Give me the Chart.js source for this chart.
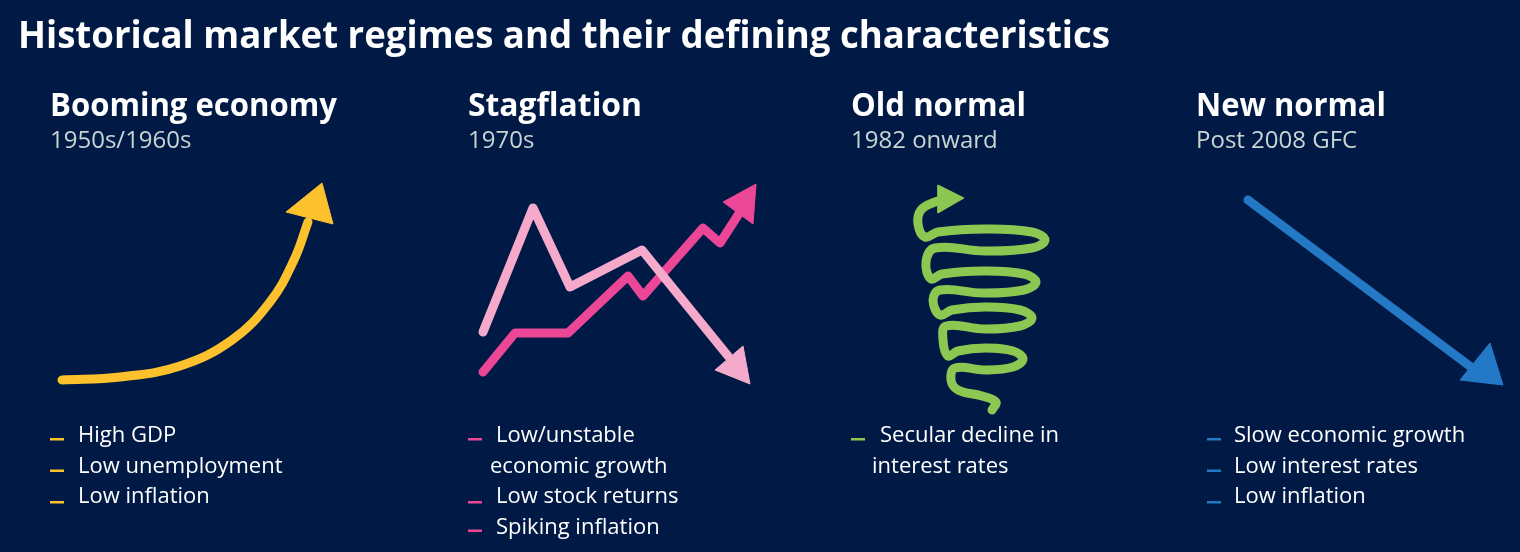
<!DOCTYPE html>
<html><head><meta charset="utf-8">
<script src="https://cdn.jsdelivr.net/npm/chart.js@4"></script>
<style>html,body{margin:0;padding:0;background:#001a45;}canvas{display:block}</style>
</head><body>
<canvas id="c" width="1520" height="552"></canvas>
<script>
// ---- data (figure shapes, in picture units) ----
const titleText = "Historical market regimes and their defining characteristics";
const regimeNames = ["Booming economy", "Stagflation", "Old normal", "New normal"];
const regimePeriods = ["1950s/1960s", "1970s", "1982 onward", "Post 2008 GFC"];
const regimeColors = ["#fcc12c", "#ec4797", "#8cc751", "#2479c6"];
const bullets = [
  [["High GDP"], ["Low unemployment"], ["Low inflation"]],
  [["Low/unstable", "economic growth"], ["Low stock returns"], ["Spiking inflation"]],
  [["Secular decline in", "interest rates"]],
  [["Slow economic growth"], ["Low interest rates"], ["Low inflation"]]
];
const boomCurve = [[62,380],[120,377],[180,366],[232,340],[270,302],[294,260],[308,222]];
const boomHead = [[322,183],[286,212],[333,224],[322,183]];
const stagInflation = [[483,332],[533,208],[570,287],[642,250],[728,356]];
const stagInflationHead = [[750,384],[715,370],[743,346],[750,384]];
const stagGrowth = [[483,372],[515,333],[568,333],[628,276],[643,296],[703,228],[720,243],[740,212]];
const stagGrowthHead = [[756,184],[723,202],[753,224],[756,184]];
const spiral = [[992,410],[996,402],[982,396],[958,390],[951,380],[955,368],[985,370],[1013,367],[1023,359],[1013,351],[985,348],[958,351],[948,356],[943,340],[946,326],[985,329],[1020,326],[1032,318],[1020,310],[985,307],[952,310],[940,315],[933,300],[940,290],[983,293],[1024,290],[1036,282],[1024,274],[983,271],[942,274],[931,279],[926,262],[935,248],[985,251],[1032,248],[1045,240],[1032,232],[985,229],[938,232],[925,237],[918,224],[921,210],[935,202],[948,199]];
const spiralHead = [[964,198],[938,185],[938,213],[964,198]];
const newNormalLine = [[1248,200],[1475,370]];
const newNormalHead = [[1503,385],[1460,380],[1490,343],[1503,385]];

const toPts = a => a.map(p => ({x:p[0], y:p[1]}));
const lineDs = (pts, color, tension) => ({data: toPts(pts), showLine:true, borderColor:color, borderWidth:9,
  borderCapStyle:'round', borderJoinStyle:'round', pointRadius:0, tension:tension||0, fill:false});
const headDs = (pts, color) => ({data: toPts(pts), showLine:true, borderColor:color, backgroundColor:color,
  borderWidth:1, pointRadius:0, tension:0, fill:'shape'});

const datasets = [
  lineDs(boomCurve, regimeColors[0], 0.4), headDs(boomHead, regimeColors[0]),
  lineDs(stagInflation, "#f5aacb"), headDs(stagInflationHead, "#f5aacb"),
  lineDs(stagGrowth, regimeColors[1]), headDs(stagGrowthHead, regimeColors[1]),
  lineDs(spiral, regimeColors[2], 0.4), headDs(spiralHead, regimeColors[2]),
  lineDs(newNormalLine, regimeColors[3]), headDs(newNormalHead, regimeColors[3])
];

const colX = [50, 468, 851, 1196];
const textPlugin = {
  id:'txt',
  beforeDraw(chart){ const c=chart.ctx; c.save(); c.fillStyle='#001a45'; c.fillRect(0,0,chart.width,chart.height); c.restore(); },
  afterDraw(chart){
    const c = chart.ctx; c.save(); c.textBaseline='alphabetic';
    const fit = (t,x,y,font,col,w) => { c.font=font; c.fillStyle=col; c.fillText(t,x,y,w); };
    fit(titleText, 18, 48, "bold 37px 'Open Sans'", "#fff", 1092);
    const headW = [287, 174, 175, 190];
    const perW = [166, 78, 161, 182];
    regimeNames.forEach((n,i)=>{
      fit(n, colX[i], 116, "bold 33px 'Open Sans'", "#fff", headW[i]);
      fit(regimePeriods[i], colX[i], 148, "24px 'Open Sans'", "#c9d5d3", perW[i]);
    });
    const bulletX = [50, 468, 851, 1207];
    const textX = [78, 496, 880, 1234];
    const contX = [78, 490, 872, 1234];
    bullets.forEach((list,i)=>{
      let line = 0;
      list.forEach(b=>{
        const y = 442 + line*30.5;
        c.fillStyle = regimeColors[i]; c.fillRect(bulletX[i], y-4 + (line%3)*1, 14, 2.5);
        b.forEach((t,k)=>{
          c.font = "22px 'Open Sans'"; c.fillStyle = "#fff";
          c.fillText(t, k===0?textX[i]:contX[i], 442 + line*30.5);
          line++;
        });
      });
    });
    c.restore();
  }
};

new Chart(document.getElementById('c'), {
  type:'scatter',
  data:{datasets},
  options:{responsive:false, animation:false, devicePixelRatio:1,
    layout:{padding:0},
    plugins:{legend:{display:false}, tooltip:{enabled:false}},
    scales:{x:{type:'linear',min:0,max:1520,display:false},
            y:{type:'linear',min:0,max:552,reverse:true,display:false}}},
  plugins:[textPlugin]
});
</script>
</body></html>
